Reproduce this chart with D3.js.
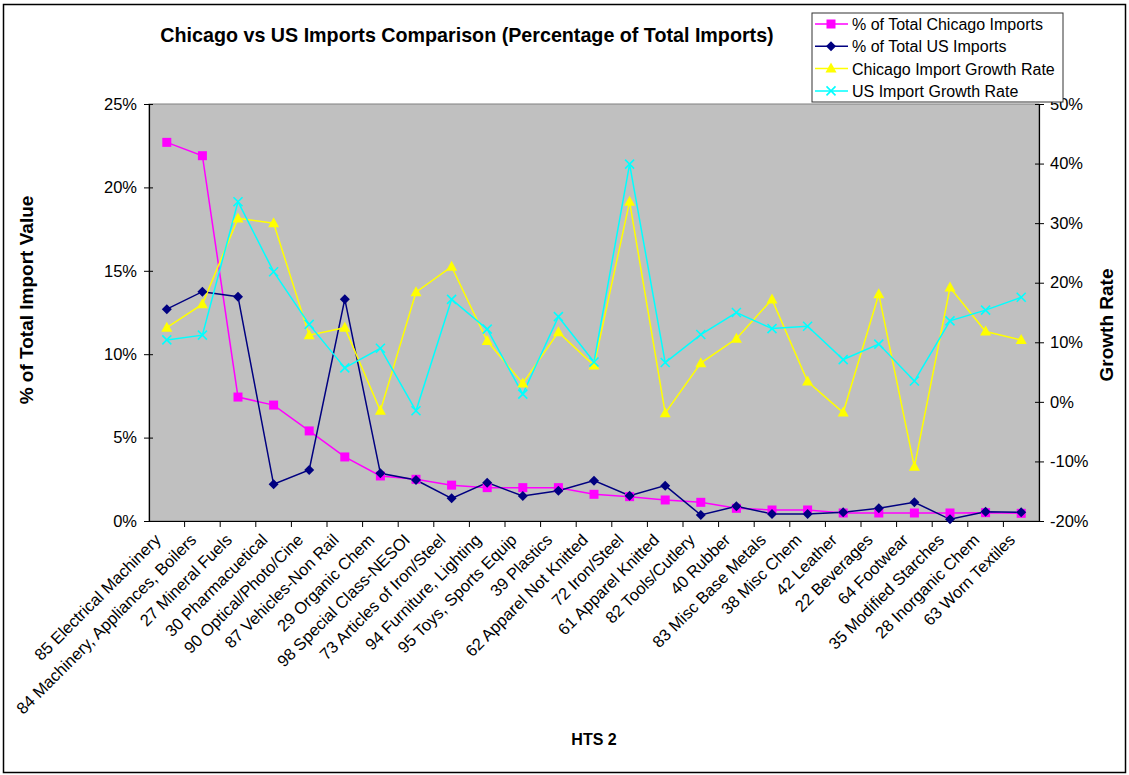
<!DOCTYPE html>
<html><head><meta charset="utf-8">
<script src="https://cdn.jsdelivr.net/npm/d3@7"></script>
<style>body{margin:0;background:#fff;} text{font-family:"Liberation Sans",Arial,sans-serif;}</style>
</head><body>
<svg id="c" width="1129" height="775"></svg>
<script>
const categories = ["85 Electrical Machinery","84 Machinery, Appliances, Boilers","27 Mineral Fuels","30 Pharmacuetical","90 Optical/Photo/Cine","87 Vehicles-Non Rail","29 Organic Chem","98 Special Class-NESOI","73 Articles of Iron/Steel","94 Furniture, Lighting","95 Toys, Sports Equip","39 Plastics","62 Apparel Not Knitted","72 Iron/Steel","61 Apparel Knitted","82 Tools/Cutlery","40 Rubber","83 Misc Base Metals","38 Misc Chem","42 Leather","22 Beverages","64 Footwear","35 Modified Starches","28 Inorganic Chem","63 Worn Textiles"];
const chicagoShare = [22.7,21.9,7.43,6.95,5.4,3.84,2.7,2.5,2.15,2.0,2.0,2.0,1.6,1.46,1.26,1.12,0.76,0.66,0.66,0.48,0.48,0.48,0.48,0.5,0.46];
const usShare = [12.7,13.75,13.45,2.2,3.06,13.3,2.86,2.46,1.36,2.3,1.5,1.82,2.42,1.52,2.12,0.36,0.88,0.42,0.42,0.52,0.76,1.12,0.1,0.56,0.52];
const chicagoGrowth = [12.45,16.4,30.8,30.0,11.2,12.45,-1.5,18.4,22.7,10.2,3.1,11.7,6.1,33.6,-1.9,6.5,10.6,17.2,3.4,-1.8,18.05,-10.9,19.2,11.8,10.4];
const usGrowth = [10.4,11.2,33.6,21.85,13.0,5.7,9.0,-1.5,17.2,12.2,1.3,14.3,6.7,39.9,6.6,11.3,15.0,12.3,12.7,7.1,9.7,3.5,13.6,15.4,17.55];
const leftTicks = [0,5,10,15,20,25];
const rightTicks = [-20,-10,0,10,20,30,40,50];
const seriesNames = ["% of Total Chicago Imports","% of Total US Imports","Chicago Import Growth Rate","US Import Growth Rate"];

const svg = d3.select("#c");
const L=149,R=1039,T=104,B=521;
svg.append("rect").attr("x",3.5).attr("y",4.5).attr("width",1122).attr("height",768).attr("fill","#fff").attr("stroke","#000").attr("stroke-width",1.5);

const x = d3.scaleBand().domain(categories).range([L,R]).padding(0);
const yL = d3.scaleLinear().domain([0,25]).range([B,T]);
const yR = d3.scaleLinear().domain([-20,50]).range([B,T]);
const cx = d => x(d)+x.bandwidth()/2;

svg.append("rect").attr("x",L).attr("y",T).attr("width",R-L).attr("height",B-T).attr("fill","#C0C0C0").attr("stroke","#808080").attr("stroke-width",1);

const FS = 16.5;
const gL = svg.append("g").attr("transform",`translate(${L},0)`)
  .call(d3.axisLeft(yL).tickValues(leftTicks).tickFormat(d=>d+"%").tickSizeOuter(0).tickSize(5));
gL.selectAll(".tick line").attr("x1",4).attr("x2",-5);
const gR = svg.append("g").attr("transform",`translate(${R},0)`)
  .call(d3.axisRight(yR).tickValues(rightTicks).tickFormat(d=>d+"%").tickSizeOuter(0).tickSize(5));
gR.selectAll(".tick line").attr("x1",-4).attr("x2",5);
const gX = svg.append("g").attr("transform",`translate(0,${B})`)
  .call(d3.axisBottom(x).tickSize(0).tickSizeOuter(0));
[gL,gR,gX].forEach(g=>{g.select(".domain").attr("stroke","#000").attr("stroke-width",1.2);g.selectAll(".tick line").attr("stroke","#000");g.selectAll("text").attr("font-size",FS).attr("fill","#000").attr("font-family","Liberation Sans, Arial, sans-serif");});
gL.selectAll("text").attr("x",-12);
gR.selectAll("text").attr("x",11);
svg.append("g").selectAll("line").data(categories.slice(1)).join("line")
  .attr("x1",d=>x(d)).attr("x2",d=>x(d)).attr("y1",B).attr("y2",B+6).attr("stroke","#000");
gX.selectAll(".tick text").attr("text-anchor","end").attr("transform","translate(-5,20) rotate(-45)").attr("dy",0).attr("y",0).attr("x",0);

function series(vals, ys, color){
  const line = d3.line().x((d,i)=>cx(categories[i])).y(d=>ys(d));
  svg.append("path").datum(vals).attr("d",line).attr("fill","none").attr("stroke",color).attr("stroke-width",1.5);
}
series(chicagoShare,yL,"#FF00FF");
series(usShare,yL,"#000080");
series(chicagoGrowth,yR,"#FFFF00");
series(usGrowth,yR,"#00FFFF");

function marker(g,type,color){
  if(type==="square") g.append("rect").attr("x",-4.5).attr("y",-4.5).attr("width",9).attr("height",9).attr("fill",color);
  else if(type==="diamond") g.append("path").attr("d","M0,-5L5,0L0,5L-5,0Z").attr("fill",color);
  else if(type==="tri") g.append("path").attr("d","M0,-6L5.5,4L-5.5,4Z").attr("fill",color);
  else g.append("path").attr("d","M-4.5,-4.5L4.5,4.5M4.5,-4.5L-4.5,4.5").attr("stroke",color).attr("stroke-width",1.6);
}
function markers(vals,ys,type,color){
  svg.append("g").selectAll("g").data(vals).join("g")
    .attr("transform",(d,i)=>`translate(${cx(categories[i])},${ys(d)})`)
    .each(function(){marker(d3.select(this),type,color);});
}
markers(chicagoShare,yL,"square","#FF00FF");
markers(usShare,yL,"diamond","#000080");
markers(chicagoGrowth,yR,"tri","#FFFF00");
markers(usGrowth,yR,"x","#00FFFF");

svg.append("text").attr("x",467).attr("y",42).attr("text-anchor","middle").attr("font-size",19.7).attr("font-weight","bold").text("Chicago vs US Imports Comparison (Percentage of Total Imports)");
svg.append("text").attr("transform","translate(33,300) rotate(-90)").attr("text-anchor","middle").attr("font-size",19).attr("font-weight","bold").text("% of Total Import Value");
svg.append("text").attr("transform","translate(1113,325) rotate(-90)").attr("text-anchor","middle").attr("font-size",19).attr("font-weight","bold").text("Growth Rate");
svg.append("text").attr("x",594).attr("y",745).attr("text-anchor","middle").attr("font-size",16).attr("font-weight","bold").text("HTS 2");

const lg = svg.append("g");
lg.append("rect").attr("x",812).attr("y",13).attr("width",251).attr("height",89).attr("fill","#fff").attr("stroke","#333").attr("stroke-width",1);
const types=["square","diamond","tri","x"], cols=["#FF00FF","#000080","#FFFF00","#00FFFF"];
seriesNames.forEach((n,i)=>{
  const yy = 24 + i*22.3;
  lg.append("line").attr("x1",815).attr("x2",848).attr("y1",yy).attr("y2",yy).attr("stroke",cols[i]).attr("stroke-width",1.5);
  const g = lg.append("g").attr("transform",`translate(831,${yy})`); marker(g,types[i],cols[i]);
  lg.append("text").attr("x",852).attr("y",yy+6).attr("font-size",16).text(n);
});
</script>
</body></html>
